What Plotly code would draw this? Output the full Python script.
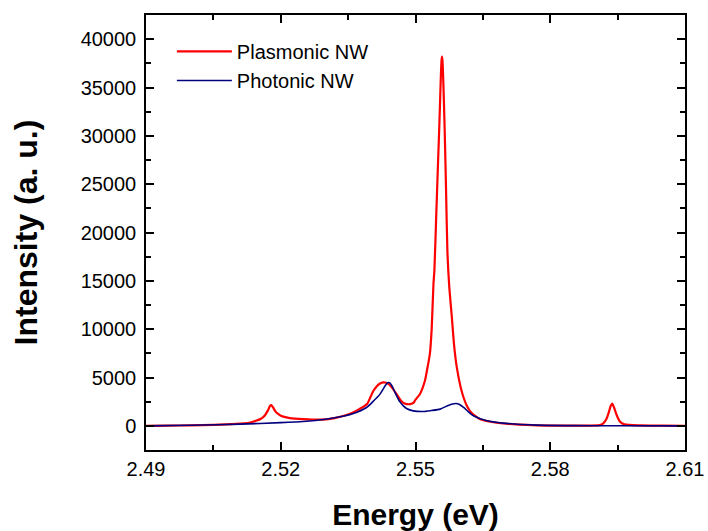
import plotly.graph_objects as go

# Plasmonic NW (red) spectrum
plasmonic_energy = [2.490, 2.495, 2.500, 2.505, 2.510, 2.513, 2.514, 2.5155, 2.5165, 2.5172,
                    2.5176, 2.5179, 2.5183, 2.5188, 2.5195, 2.520, 2.521, 2.522, 2.525, 2.5294,
                    2.532, 2.5348, 2.537, 2.5392, 2.540, 2.5406, 2.5413, 2.542, 2.5428, 2.5435,
                    2.5442, 2.545, 2.5459, 2.5466, 2.5472, 2.548, 2.5488, 2.5496, 2.550, 2.551,
                    2.5521, 2.5525, 2.5532, 2.5536, 2.554, 2.5542, 2.5546, 2.5550, 2.5553, 2.5556,
                    2.5558, 2.5559, 2.5560, 2.5562, 2.5565, 2.5568, 2.5571, 2.5575, 2.5581, 2.5586,
                    2.5592, 2.5600, 2.5607, 2.5614, 2.5621, 2.5632, 2.5644, 2.5670, 2.5695, 2.573,
                    2.577, 2.582, 2.587, 2.591, 2.5918, 2.5925, 2.5931, 2.5935, 2.5938, 2.5942,
                    2.5948, 2.5955, 2.5965, 2.600, 2.605, 2.610]
plasmonic_intensity = [0, 20, 50, 100, 200, 320, 450, 700, 1100, 1650,
                       2050, 2150, 1900, 1500, 1200, 1050, 900, 800, 700, 650,
                       800, 1140, 1600, 2250, 3000, 3600, 4050, 4350, 4500, 4450,
                       4250, 3800, 3200, 2700, 2400, 2250, 2250, 2400, 2700, 3300,
                       4660, 5600, 7450, 10000, 14700, 16000, 21500, 27000, 31000, 35500,
                       37800, 38200, 37800, 35500, 30500, 24500, 18100, 14500, 11200, 8300,
                       6040, 4100, 2930, 2100, 1550, 1050, 690, 400, 240, 120,
                       50, 20, 20, 70, 250, 700, 1500, 2100, 2300, 1900,
                       1100, 450, 150, 40, 20, 0]

# Photonic NW (navy) spectrum
photonic_energy = [2.490, 2.500, 2.511, 2.520, 2.525, 2.530, 2.5332, 2.536, 2.5391, 2.5405,
                   2.5421, 2.5428, 2.5434, 2.5439, 2.5443, 2.5448, 2.5453, 2.5458, 2.5465, 2.5473,
                   2.548, 2.5495, 2.5517, 2.5535, 2.5555, 2.557, 2.5582, 2.559, 2.5598, 2.5607,
                   2.5618, 2.5629, 2.5659, 2.5696, 2.577, 2.585, 2.595, 2.610]
photonic_intensity = [0, 60, 175, 330, 450, 680, 930, 1250, 1900, 2500,
                      3280, 3800, 4250, 4480, 4450, 4100, 3600, 3110, 2500, 2070,
                      1800, 1550, 1480, 1580, 1730, 2050, 2250, 2310, 2200, 1900,
                      1450, 1040, 520, 280, 70, 20, 5, 0]

x_ticks = [2.49, 2.52, 2.55, 2.58, 2.61]
y_ticks = [0, 5000, 10000, 15000, 20000, 25000, 30000, 35000, 40000]

FONT = "Arial, 'Liberation Sans', sans-serif"

fig = go.Figure()
fig.add_trace(go.Scatter(x=plasmonic_energy, y=plasmonic_intensity, mode="lines",
                         name="Plasmonic NW", line=dict(color="#ff0000", width=2.2, shape="spline", smoothing=0.6)))
fig.add_trace(go.Scatter(x=photonic_energy, y=photonic_intensity, mode="lines",
                         name="Photonic NW", line=dict(color="#000080", width=1.6, shape="spline", smoothing=0.6)))

axis_common = dict(showline=True, linecolor="black", linewidth=1.5, mirror="ticks",
                   ticks="inside", ticklen=8, tickwidth=1.5, tickcolor="black",
                   showgrid=False, zeroline=False, automargin=False,
                   tickfont=dict(family=FONT, size=20, color="black"))

fig.update_xaxes(range=[2.49, 2.61], tickvals=x_ticks, ticktext=[f"{v:.2f}" for v in x_ticks],
                 minor=dict(ticks="inside", ticklen=5, tickwidth=1.5, tickcolor="black", dtick=0.015,
                            tick0=2.49, showgrid=False),
                 title=dict(text="<b>Energy (eV)</b>", font=dict(family=FONT, size=30, color="black"),
                            standoff=25),
                 ticklabelstandoff=0,
                 **axis_common)
fig.update_yaxes(range=[-2500, 42500], tickvals=y_ticks, ticktext=[str(v) for v in y_ticks],
                 minor=dict(ticks="inside", ticklen=5, tickwidth=1.5, tickcolor="black", dtick=2500,
                            tick0=0, showgrid=False),
                 title=dict(text="<b>Intensity (a. u.)</b>", font=dict(family=FONT, size=32, color="black"),
                            standoff=33),
                 ticklabelstandoff=4,
                 **axis_common)

fig.update_layout(width=708, height=531, margin=dict(l=146, r=23, t=15, b=81),
                  paper_bgcolor="white", plot_bgcolor="white",
                  font=dict(family=FONT, size=20, color="black"),
                  legend=dict(x=0.048, y=0.961, xanchor="left", yanchor="top",
                              bgcolor="rgba(0,0,0,0)", font=dict(family=FONT, size=20, color="black"),
                              tracegroupgap=0, itemwidth=55),
                  showlegend=True)

fig.write_html("out.html", config={"displayModeBar": False},
               post_script="document.body.style.margin='0';document.body.style.overflow='hidden';")
